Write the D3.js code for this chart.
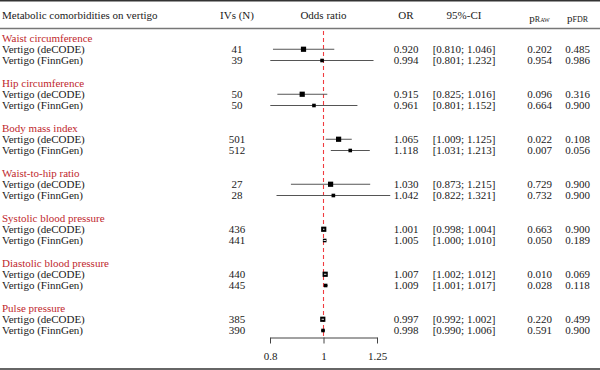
<!DOCTYPE html>
<html>
<head>
<meta charset="utf-8">
<script src="https://cdn.jsdelivr.net/npm/d3@7"></script>
<style>
  body { margin: 0; background: #fff; }
</style>
</head>
<body>
<div id="chart"></div>
<script>
// data
const groups = ['Waist circumference', 'Hip circumference', 'Body mass index', 'Waist-to-hip ratio',
  'Systolic blood pressure', 'Diastolic blood pressure', 'Pulse pressure']
const outcomes = ['Vertigo (deCODE)', 'Vertigo (FinnGen)']
const ivs = [[41, 39], [50, 50], [501, 512], [27, 28], [436, 441], [440, 445], [385, 390]]
const or = [[0.920, 0.994], [0.915, 0.961], [1.065, 1.118], [1.030, 1.042], [1.001, 1.005], [1.007, 1.009], [0.997, 0.998]]
const lower = [[0.810, 0.801], [0.825, 0.801], [1.009, 1.031], [0.873, 0.822], [0.998, 1.000], [1.002, 1.001], [0.992, 0.990]]
const upper = [[1.046, 1.232], [1.016, 1.152], [1.125, 1.213], [1.215, 1.321], [1.004, 1.010], [1.012, 1.017], [1.002, 1.006]]
const pRaw = [['0.202', '0.954'], ['0.096', '0.664'], ['0.022', '0.007'], ['0.729', '0.732'], ['0.663', '0.050'], ['0.010', '0.028'], ['0.220', '0.591']]
const pFdr = [['0.485', '0.986'], ['0.316', '0.900'], ['0.108', '0.056'], ['0.900', '0.900'], ['0.900', '0.189'], ['0.069', '0.118'], ['0.499', '0.900']]
const axisTicks = [0.8, 1, 1.25]

const width = 600, height = 370
const FONT = "'Liberation Serif', 'DejaVu Serif', serif"
const svg = d3.select('#chart').append('svg')
  .attr('width', width)
  .attr('height', height)
  .attr('font-family', FONT)
  .attr('font-size', 11)
  .attr('fill', '#1a1a1a')

// rows: title, two studies, blank
const slot = 11.25, firstY = 38
const rowY = (g, k) => firstY + (g * 4 + k) * slot

const x = d3.scaleLog().domain([0.8, 1.25]).range([270, 377])

// column centres
const col = { ivs: 237, or: 406, ci: 464, praw: 539.5, pfdr: 577.5 }

// rules
svg.append('line').attr('x1', 0).attr('x2', width).attr('y1', 0.75).attr('y2', 0.75)
  .attr('stroke', '#333').attr('stroke-width', 1.5)
svg.append('line').attr('x1', 0).attr('x2', width).attr('y1', 28.5).attr('y2', 28.5)
  .attr('stroke', '#777').attr('stroke-width', 1.5)
svg.append('line').attr('x1', 0).attr('x2', width).attr('y1', 369).attr('y2', 369)
  .attr('stroke', '#333').attr('stroke-width', 1.5)

// header
const header = svg.append('g').attr('transform', 'translate(0,18.5)')
header.append('text').attr('x', 2).text('Metabolic comorbidities on vertigo')
header.append('text').attr('x', col.ivs).attr('text-anchor', 'middle').text('IVs (N)')
header.append('text').attr('x', x(1)).attr('text-anchor', 'middle').text('Odds ratio')
header.append('text').attr('x', col.or).attr('text-anchor', 'middle').text('OR')
header.append('text').attr('x', col.ci).attr('text-anchor', 'middle').text('95%-CI')
const pr = header.append('text').attr('x', col.praw).attr('y', 3).attr('text-anchor', 'middle')
pr.append('tspan').text('p')
pr.append('tspan').attr('font-size', 8).style('font-variant', 'small-caps').text('Raw')
const pf = header.append('text').attr('x', col.pfdr).attr('y', 3).attr('text-anchor', 'middle')
pf.append('tspan').text('p')
pf.append('tspan').attr('font-size', 8).style('font-variant', 'small-caps').text('FDR')

// reference line at OR = 1
svg.append('line')
  .attr('x1', x(1)).attr('x2', x(1))
  .attr('y1', 31).attr('y2', 337)
  .attr('stroke', '#f03c40').attr('stroke-width', 1.1)
  .attr('stroke-dasharray', '4,3')

const log = Math.log
groups.forEach((gName, g) => {
  svg.append('text')
    .attr('x', 2).attr('y', rowY(g, 0)).attr('dy', '0.35em')
    .attr('fill', '#c0272d')
    .text(gName)

  // inverse-variance weights -> square size
  const se = [0, 1].map(i => (log(upper[g][i]) - log(lower[g][i])) / 3.92)
  const w = se.map(s => 1 / (s * s))
  const size = d3.scaleSqrt().domain([0, d3.max(w)]).range([0, 5.2])

  outcomes.forEach((name, i) => {
    const y = rowY(g, i + 1)
    const row = svg.append('g')
    row.append('text').attr('x', 2).attr('y', y).attr('dy', '0.35em').text(name)
    row.append('text').attr('x', col.ivs).attr('y', y).attr('dy', '0.35em')
      .attr('text-anchor', 'middle').text(ivs[g][i])
    row.append('text').attr('x', col.or).attr('y', y).attr('dy', '0.35em')
      .attr('text-anchor', 'middle').text(or[g][i].toFixed(3))
    row.append('text').attr('x', col.ci).attr('y', y).attr('dy', '0.35em')
      .attr('text-anchor', 'middle')
      .text('[' + lower[g][i].toFixed(3) + '; ' + upper[g][i].toFixed(3) + ']')
    row.append('text').attr('x', col.praw).attr('y', y).attr('dy', '0.35em')
      .attr('text-anchor', 'middle').text(pRaw[g][i])
    row.append('text').attr('x', col.pfdr).attr('y', y).attr('dy', '0.35em')
      .attr('text-anchor', 'middle').text(pFdr[g][i])

    const s = Math.max(size(w[i]), 3.6)
    const cx = x(or[g][i])
    const lo = x(lower[g][i]), hi = x(upper[g][i])
    const inside = lo >= cx - s / 2 && hi <= cx + s / 2
    if (!inside) {
      row.append('line').attr('x1', lo).attr('x2', hi).attr('y1', y).attr('y2', y)
        .attr('stroke', '#555').attr('stroke-width', 1)
    }
    row.append('rect')
      .attr('x', cx - s / 2).attr('y', y - s / 2)
      .attr('width', s).attr('height', s)
      .attr('fill', '#000')
    if (inside) {
      row.append('line').attr('x1', lo).attr('x2', hi).attr('y1', y).attr('y2', y)
        .attr('stroke', '#fff').attr('stroke-width', 0.9)
    }
  })
})

// axis
const axis = d3.axisBottom(x).tickValues(axisTicks)
  .tickFormat(d3.format('')).tickSize(6).tickSizeOuter(0)
const ax = svg.append('g').attr('transform', 'translate(0,337.5)').call(axis)
ax.attr('font-family', FONT).attr('font-size', 11)
ax.select('.domain').attr('stroke', '#444')
ax.selectAll('.tick line').attr('stroke', '#444')
ax.selectAll('.tick text')
  .attr('y', 15)
  .attr('fill', '#1a1a1a')
</script>
</body>
</html>
